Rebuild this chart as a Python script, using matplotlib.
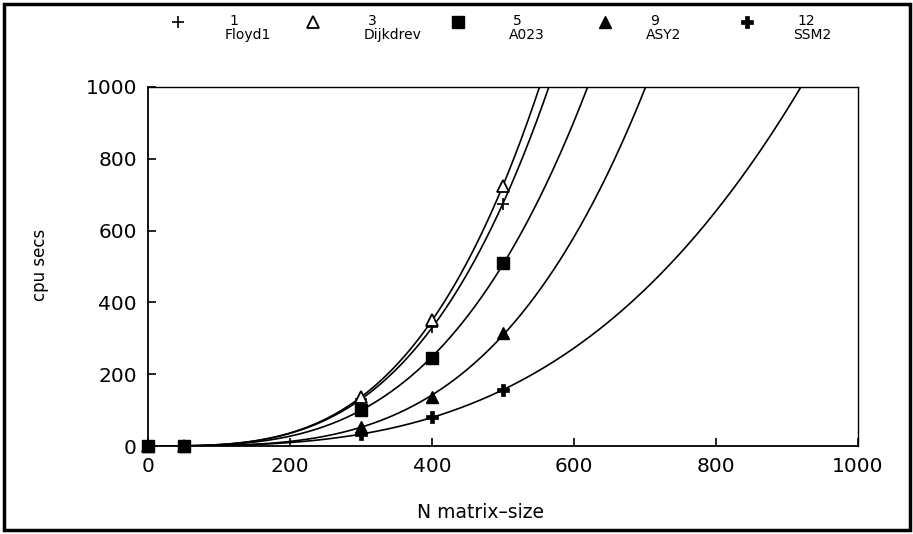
import numpy as np
import matplotlib
matplotlib.use("Agg")
import matplotlib.pyplot as plt
from matplotlib.patches import Rectangle
from matplotlib.lines import Line2D

# Data (N matrix-size vs cpu secs)
n_points = [0, 50, 300, 400, 500]
series_ids = ["1", "3", "5", "9", "12"]
series_names = ["Floyd1", "Dijkdrev", "A023", "ASY2", "SSM2"]
floyd1 = [0, 0, 130, 331, 674]
dijkdrev = [0, 0, 136, 351, 724]
a023 = [0, 0, 100, 245, 510]
asy2 = [0, 0, 53, 137, 315]
ssm2 = [0, 0, 33, 80, 156]
x_ticks = [0, 200, 400, 600, 800, 1000]
y_ticks = [0, 200, 400, 600, 800, 1000]

all_series = [floyd1, dijkdrev, a023, asy2, ssm2]
markers = [
    dict(marker="+", ms=9, mew=1.2, mfc="black", mec="black"),
    dict(marker="^", ms=9, mew=1.3, mfc="white", mec="black"),
    dict(marker="s", ms=9, mew=1.0, mfc="black", mec="black"),
    dict(marker="^", ms=9, mew=1.0, mfc="black", mec="black"),
    dict(marker="P", ms=9, mew=0.5, mfc="black", mec="black"),
]

plt.rcParams['font.family'] = ['DejaVu Sans']
fig = plt.figure(figsize=(9.13, 5.34), dpi=100)
ax = fig.add_axes([148/913, 1-446/534, (858-148)/913, (446-87)/534])

nx = np.array(n_points, dtype=float)
grid = np.linspace(1, 1000, 2000)
for vals, mk in zip(all_series, markers):
    y = np.array(vals, dtype=float)
    pos = y > 0
    # power-law fit through the measured (non-zero) points
    b, loga = np.polyfit(np.log(nx[pos]), np.log(y[pos]), 1)
    fit = np.exp(loga) * grid ** b
    keep = fit <= 1000
    ax.plot(grid[keep], fit[keep], color="black", lw=1.2)
    ax.plot(nx, y, linestyle="none", clip_on=False, zorder=5, **mk)

ax.set_xlim(0, 1000)
ax.set_ylim(0, 1000)
ax.set_xticks(x_ticks)
ax.set_yticks(y_ticks)
for s in ['left', 'bottom']:
    ax.spines[s].set_linewidth(1.3)
for s in ['top', 'right']:
    ax.spines[s].set_linewidth(1.0)
ax.tick_params(direction='in', length=6, width=1.2, labelsize=14.5, pad=8)

fig.text(40/913, 1-265/534, "cpu secs", rotation=90, ha='center', va='center', fontsize=12)
fig.text(480/913, 1-513/534, "N matrix\u2013size", ha='center', va='center', fontsize=13.5)

# Legend at top
sym_x = [178, 313, 458, 605, 747]
txt_x = [229, 368, 513, 650, 797]
for sx, tx, sid, name, mk in zip(sym_x, txt_x, series_ids, series_names, markers):
    fig.lines.append(Line2D([sx/913], [1-22/534], transform=fig.transFigure,
                            linestyle="none", **mk))
    fig.text(tx/913, 1-21/534, sid, ha='left', va='center', fontsize=10)
    fig.text((tx-4)/913, 1-35/534, name, ha='left', va='center', fontsize=10)

# Outer frame
fig.patches.append(Rectangle((4/913, 4/534), 906/913, 526/534, transform=fig.transFigure,
                             fill=False, lw=2.5, edgecolor="black"))

fig.savefig("out.png", dpi=100)
